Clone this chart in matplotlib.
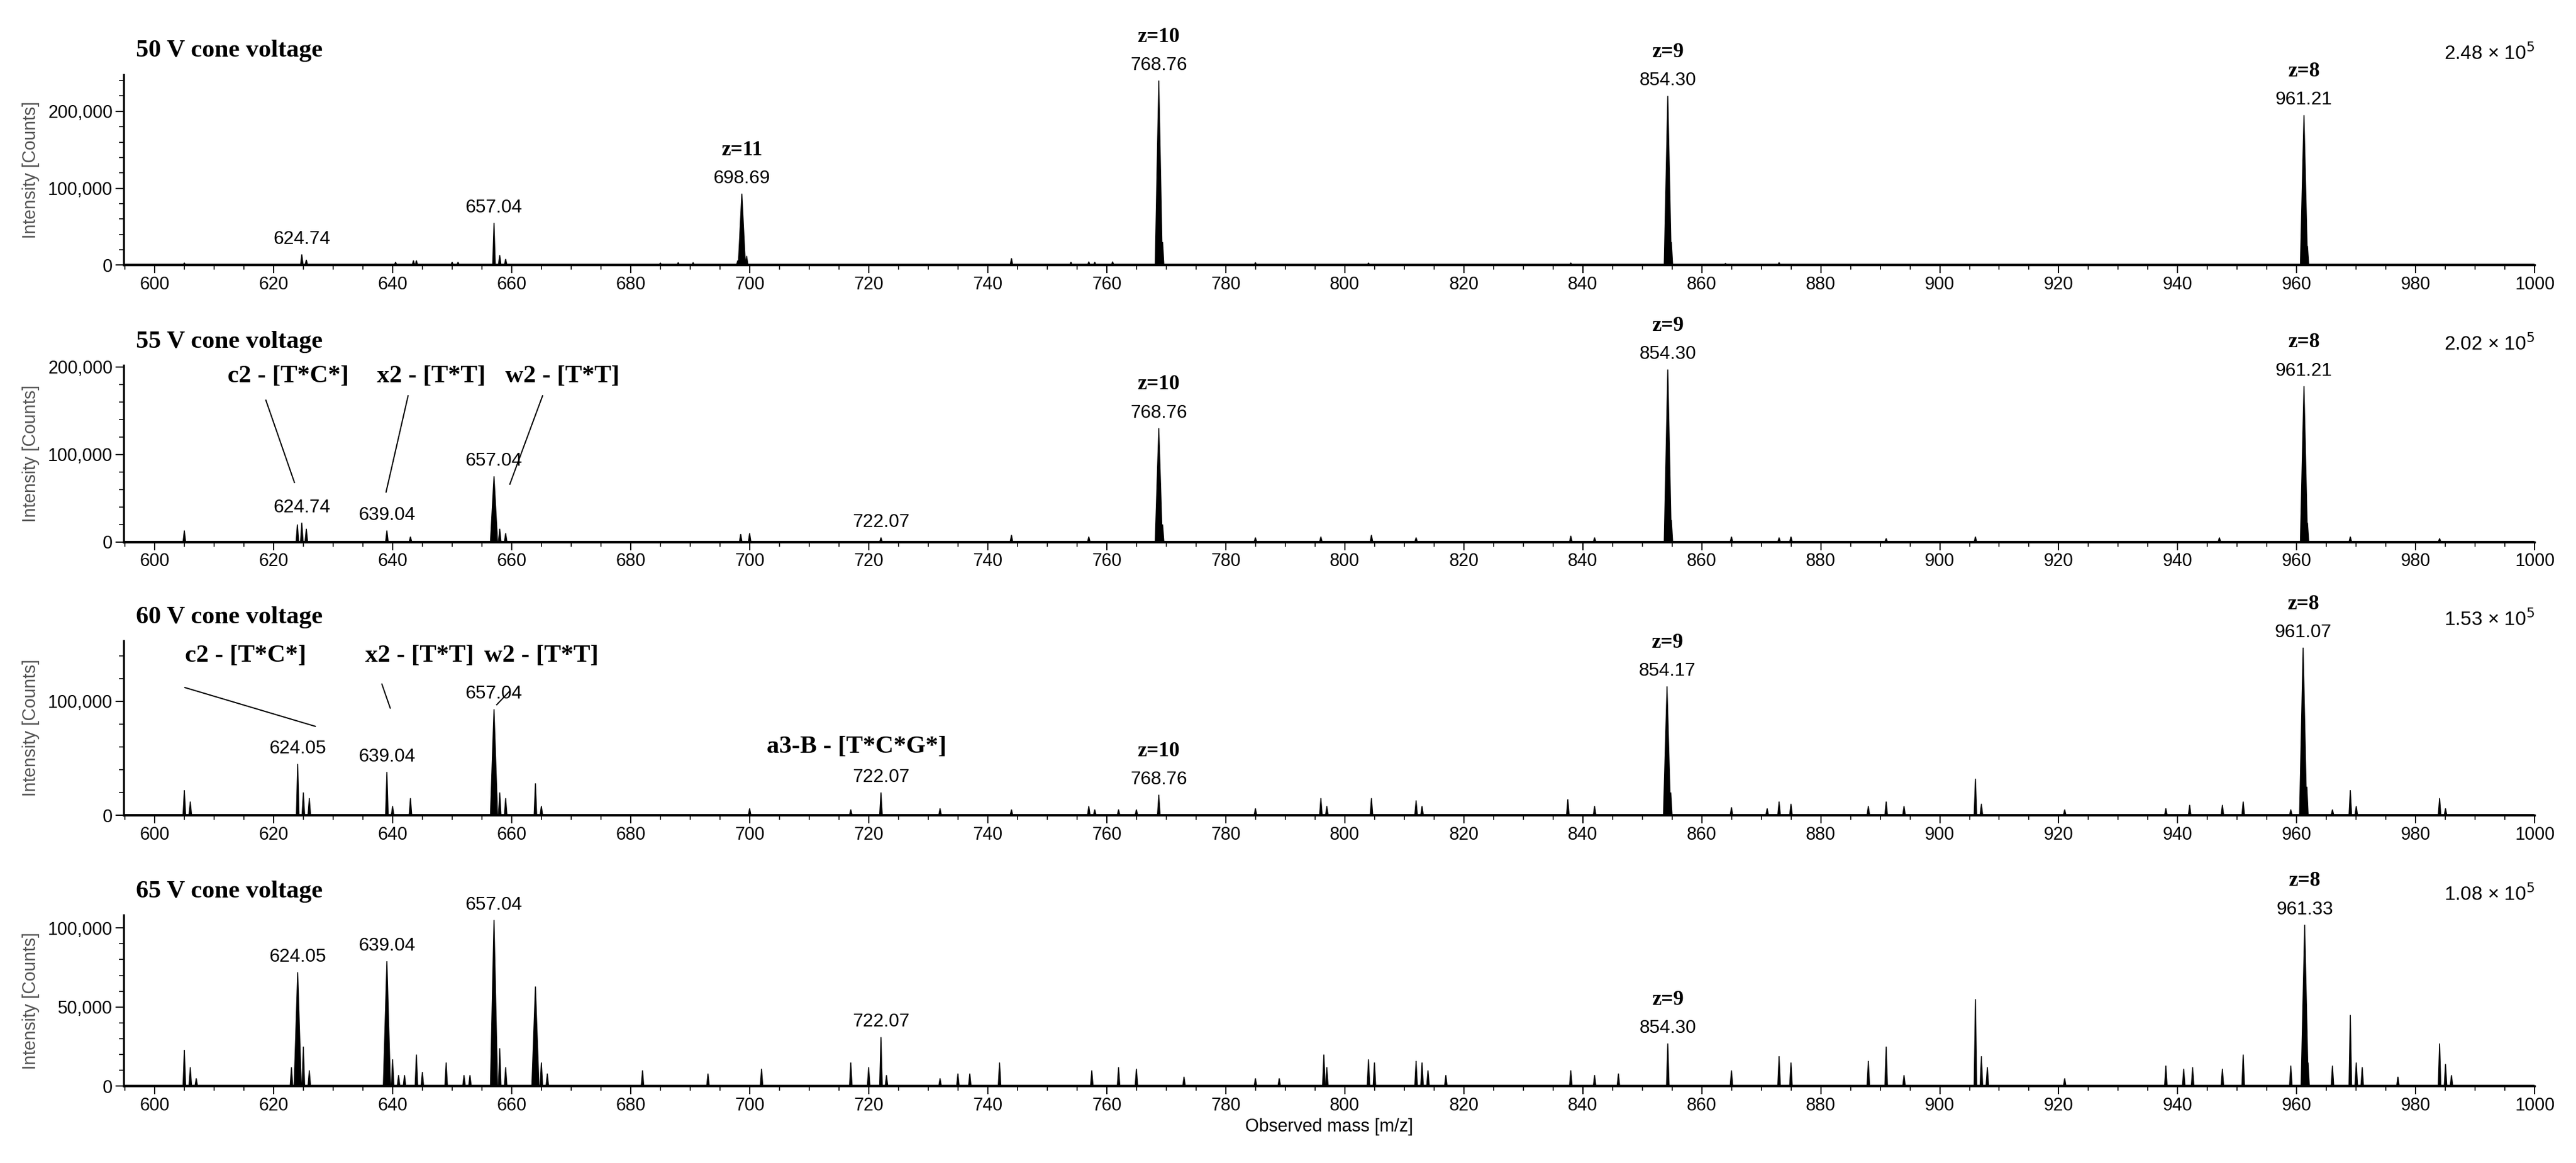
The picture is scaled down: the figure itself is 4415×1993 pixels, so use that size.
import matplotlib
matplotlib.use("Agg")
import matplotlib.pyplot as plt
from matplotlib.ticker import FuncFormatter, MultipleLocator
import numpy as np

# ---------------- data ----------------
panel_titles = ["50 V cone voltage", "55 V cone voltage", "60 V cone voltage", "65 V cone voltage"]
scale_labels = [r"2.48 × 10$^5$", r"2.02 × 10$^5$", r"1.53 × 10$^5$", r"1.08 × 10$^5$"]
y_max = [248000, 202000, 153000, 108000]
y_ticks = [[0, 100000, 200000], [0, 100000, 200000], [0, 100000], [0, 50000, 100000]]

mz_50 = [605, 624.74, 625.5, 640.5, 643.5, 644, 650, 651, 657.04, 658, 659, 685, 688, 690.5, 698, 698.69, 699.5,
         744, 754, 757, 758, 761, 768.76, 769.4, 785, 804, 838, 854.30, 854.9, 864, 873, 961.21, 961.8]
int_50 = [3000, 14000, 7000, 4000, 6000, 6000, 4000, 4000, 55000, 13000, 8000, 3000, 3500, 3500, 6000, 93000, 12000,
          9000, 4000, 4500, 4000, 4500, 240000, 30000, 3500, 3000, 3000, 220000, 30000, 2500, 3500, 195000, 25000]

mz_55 = [605, 624, 624.74, 625.5, 639.04, 643, 657.04, 658, 659, 698.5, 700, 722.07, 744, 757, 768.76, 769.4, 785,
         796, 804.5, 812, 838, 842, 854.30, 854.9, 865, 873, 875, 891, 906, 947, 961.21, 961.8, 969, 984]
int_55 = [13000, 20000, 22000, 15000, 13000, 6000, 75000, 15000, 10000, 9000, 10000, 5000, 8000, 6000, 130000, 20000,
          5000, 6000, 8000, 5000, 7000, 5000, 197000, 25000, 6000, 5000, 6000, 4000, 6000, 5000, 178000, 22000, 6000, 4000]

mz_60 = [605, 606, 624.05, 625, 626, 639.04, 640, 643, 657.04, 658, 659, 664, 665, 700, 717, 722.07, 732, 744, 757,
         758, 762, 765, 768.76, 785, 796, 797, 804.5, 812, 813, 837.5, 842, 854.17, 854.8, 865, 871, 873, 875, 888,
         891, 894, 906, 907, 921, 938, 942, 947.5, 951, 959, 961.07, 961.7, 966, 969, 970, 984, 985]
int_60 = [22000, 12000, 45000, 20000, 15000, 38000, 8000, 15000, 93000, 20000, 15000, 28000, 8000, 6000, 5000, 20000,
          6000, 5000, 8000, 5000, 5000, 5000, 18000, 6000, 15000, 8000, 15000, 13000, 8000, 14000, 8000, 113000, 20000,
          7000, 6000, 12000, 10000, 8000, 12000, 8000, 32000, 10000, 5000, 6000, 9000, 9000, 12000, 5000, 147000,
          25000, 5000, 22000, 8000, 15000, 6000]

mz_65 = [605, 606, 607, 623, 624.05, 625, 626, 639.04, 640, 641, 642, 644, 645, 649, 652, 653, 657.04, 658, 659, 664,
         665, 666, 682, 693, 702, 717, 720, 722.07, 723, 732, 735, 737, 742, 757.5, 762, 765, 773, 785, 789, 796.5,
         797, 804, 805, 812, 813, 814, 817, 838, 842, 846, 854.30, 865, 873, 875, 888, 891, 894, 906, 907, 908, 921,
         938, 941, 942.5, 947.5, 951, 959, 961.33, 961.9, 966, 969, 970, 971, 977, 984, 985, 986]
int_65 = [23000, 12000, 5000, 12000, 72000, 25000, 10000, 79000, 17000, 7000, 7000, 20000, 9000, 15000, 7000, 7000,
          105000, 24000, 12000, 63000, 15000, 8000, 10000, 8000, 11000, 15000, 12000, 31000, 7000, 5000, 8000, 8000,
          15000, 10000, 12000, 11000, 6000, 5000, 5000, 20000, 12000, 17000, 15000, 16000, 15000, 10000, 7000, 10000,
          7000, 8000, 27000, 10000, 19000, 15000, 16000, 25000, 7000, 55000, 19000, 12000, 5000, 13000, 11000, 12000,
          11000, 20000, 13000, 102000, 15000, 13000, 45000, 15000, 12000, 6000, 27000, 14000, 7000]

spectra = [(mz_50, int_50), (mz_55, int_55), (mz_60, int_60), (mz_65, int_65)]

labels_50 = [(624.74, "624.74", None), (657.04, "657.04", None), (698.69, "698.69", "z=11"),
             (768.76, "768.76", "z=10"), (854.30, "854.30", "z=9"), (961.21, "961.21", "z=8")]
labels_55 = [(624.74, "624.74", None), (639.04, "639.04", None), (657.04, "657.04", None), (722.07, "722.07", None),
             (768.76, "768.76", "z=10"), (854.30, "854.30", "z=9"), (961.21, "961.21", "z=8")]
labels_60 = [(624.05, "624.05", None), (639.04, "639.04", None), (657.04, "657.04", None), (722.07, "722.07", None),
             (768.76, "768.76", "z=10"), (854.17, "854.17", "z=9"), (961.07, "961.07", "z=8")]
labels_65 = [(624.05, "624.05", None), (639.04, "639.04", None), (657.04, "657.04", None), (722.07, "722.07", None),
             (854.30, "854.30", "z=9"), (961.33, "961.33", "z=8")]
peak_labels = [labels_50, labels_55, labels_60, labels_65]

frag_55 = [("c2 - [T*C*]", (622.5, 189000), (618.7, 162000), (623.5, 68000)),
           ("x2 - [T*T]", (646.5, 189000), (642.6, 167000), (638.9, 57000)),
           ("w2 - [T*T]", (668.5, 189000), (665.2, 167000), (659.7, 66000))]
frag_60 = [("c2 - [T*C*]", (615.3, 140000), (605.1, 112000), (627.0, 78000)),
           ("x2 - [T*T]", (644.5, 140000), (638.2, 115000), (639.6, 94000)),
           ("w2 - [T*T]", (665.0, 140000), (659.7, 109000), (657.5, 97000)),
           ("a3-B - [T*C*G*]", (718.0, 60000), None, None)]
fragments = [[], frag_55, frag_60, []]

# ---------------- layout ----------------
fig = plt.figure(figsize=(44.15, 19.93), dpi=100)
axes_rects = [(0.048, 0.772, 0.936, 0.164), (0.048, 0.534, 0.936, 0.152),
              (0.048, 0.299, 0.936, 0.150), (0.048, 0.066, 0.936, 0.147)]

serif = ["Liberation Serif", "DejaVu Serif"]
sans = ["Liberation Sans", "DejaVu Sans"]

for i in range(4):
    ax = fig.add_axes(axes_rects[i])
    mz, inten = spectra[i]
    for m, h in zip(mz, inten):
        w = 0.6 if h > 60000 else 0.22
        ax.fill([m - w, m, m + w], [0, h, 0], color="black", lw=1.2, edgecolor="black")
    ax.axhline(0, color="black", lw=3)
    ax.set_xlim(594.8, 1000)
    ax.set_ylim(0, y_max[i])
    ax.set_xticks(np.arange(600, 1001, 20))
    ax.xaxis.set_minor_locator(MultipleLocator(5))
    ax.set_yticks(y_ticks[i])
    ax.yaxis.set_minor_locator(MultipleLocator(y_ticks[i][1] / 5))
    ax.yaxis.set_major_formatter(FuncFormatter(lambda v, p: f"{int(v):,}"))
    for s in ("top", "right"):
        ax.spines[s].set_visible(False)
    for s in ("left", "bottom"):
        ax.spines[s].set_linewidth(2.5)
    ax.tick_params(axis="both", which="major", length=10, width=1.5, labelsize=22, direction="out")
    ax.tick_params(axis="both", which="minor", length=6, width=1.2, direction="out")
    for t in ax.get_xticklabels() + ax.get_yticklabels():
        t.set_family(sans)
    ax.set_ylabel("Intensity [Counts]", fontsize=22, color="#555555", family=sans, labelpad=10)
    ax.annotate(panel_titles[i], (0.005, 1.0), xycoords="axes fraction", xytext=(0, 29),
                textcoords="offset points", fontsize=31, fontweight="bold", family=serif,
                ha="left", va="center")
    ax.annotate(scale_labels[i], (1.0, 1.0), xycoords="axes fraction", xytext=(0, 26),
                textcoords="offset points", fontsize=24, family=sans, ha="right", va="center")

    hmap = dict(zip(mz, inten))
    for m, txt, z in peak_labels[i]:
        h = hmap.get(m, 0)
        ax.annotate(txt, (m, h), xytext=(0, 8), textcoords="offset points", ha="center", va="bottom",
                    fontsize=23, family=sans, annotation_clip=False)
        if z:
            ax.annotate(z, (m, h), xytext=(0, 42), textcoords="offset points", ha="center", va="bottom",
                        fontsize=26, fontweight="bold", family=serif, annotation_clip=False)
    for txt, txy, l0, l1 in fragments[i]:
        ax.text(txy[0], txy[1], txt, ha="center", va="center", fontsize=31, fontweight="bold",
                family=serif, clip_on=False)
        if l0 is not None:
            ax.plot([l0[0], l1[0]], [l0[1], l1[1]], color="black", lw=1.5, clip_on=False)
    if i == 3:
        ax.set_xlabel("Observed mass [m/z]", fontsize=22, family=sans, labelpad=4)

fig.savefig("out.png", dpi=100, facecolor="white")
